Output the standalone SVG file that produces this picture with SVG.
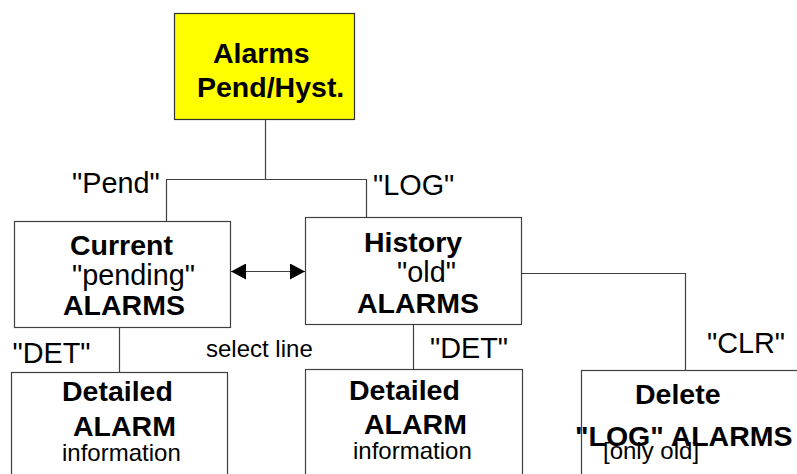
<svg xmlns="http://www.w3.org/2000/svg" width="797" height="474" viewBox="0 0 797 474">
<style>
.box{fill:#fff;stroke:#404040;stroke-width:1.2}
.yel{fill:#ffff00;stroke:#303030;stroke-width:1.2}
.b{font-family:"Liberation Sans",Arial,sans-serif;font-weight:bold;font-size:28.5px;fill:#000}
.r{font-family:"Liberation Sans",Arial,sans-serif;font-size:28.8px;fill:#000}
.s{font-family:"Liberation Sans",Arial,sans-serif;font-size:24px;fill:#000}
.ln{fill:none;stroke:#404040;stroke-width:1.2}
</style>
<defs>
<marker id="ah" viewBox="0 0 15 16" refX="15" refY="8" markerWidth="15" markerHeight="16" markerUnits="userSpaceOnUse" orient="auto-start-reverse">
<path d="M0,0 L15,8 L0,16 Z" fill="#000"/>
</marker>
</defs>
<g id="connectors">
<polyline class="ln" points="265.5,119 265.5,179.5 166.5,179.5 166.5,221"/>
<polyline class="ln" points="265.5,179.5 366.5,179.5 366.5,217"/>
<line class="ln" x1="119.5" y1="327" x2="119.5" y2="372"/>
<line class="ln" x1="413.5" y1="324" x2="413.5" y2="369"/>
<polyline class="ln" points="522,273.5 685.5,273.5 685.5,370"/>
<line class="ln" x1="231" y1="271.5" x2="305" y2="271.5" marker-start="url(#ah)" marker-end="url(#ah)"/>
<text class="r" x="72" y="193">"Pend"</text>
<text class="r" x="373" y="195">"LOG"</text>
<text class="r" x="12.5" y="363">"DET"</text>
<text class="r" x="430" y="358">"DET"</text>
<text class="r" x="707" y="353">"CLR"</text>
<text class="s" x="206" y="357">select line</text>
</g>
<g id="alarms">
<rect class="yel" x="174.5" y="13.5" width="180" height="106"/>
<text class="b" x="213" y="63">Alarms</text>
<text class="b" x="197" y="97">Pend/Hyst.</text>
</g>
<g id="current">
<rect class="box" x="14.5" y="221.5" width="216" height="106"/>
<text class="b" x="70" y="255">Current</text>
<text class="r" x="72" y="285">"pending"</text>
<text class="b" x="63" y="315">ALARMS</text>
</g>
<g id="history">
<rect class="box" x="305.5" y="217.5" width="216" height="107"/>
<text class="b" x="364" y="252">History</text>
<text class="r" x="397" y="282">"old"</text>
<text class="b" x="357" y="313">ALARMS</text>
</g>
<g id="detailed1">
<rect class="box" x="11.5" y="372.5" width="216" height="120"/>
<text class="b" x="62" y="401">Detailed</text>
<text class="b" x="73" y="436">ALARM</text>
<text class="s" x="62" y="461">information</text>
</g>
<g id="detailed2">
<rect class="box" x="305.5" y="369.5" width="217" height="120"/>
<text class="b" x="349" y="400">Detailed</text>
<text class="b" x="364" y="434">ALARM</text>
<text class="s" x="353" y="459">information</text>
</g>
<g id="delete">
<rect class="box" x="581.5" y="370.5" width="230" height="120"/>
<text class="b" x="635" y="404">Delete</text>
<text class="b" x="575" y="446">"LOG" ALARMS</text>
<text class="s" x="603" y="459">[only old]</text>
</g>
</svg>
